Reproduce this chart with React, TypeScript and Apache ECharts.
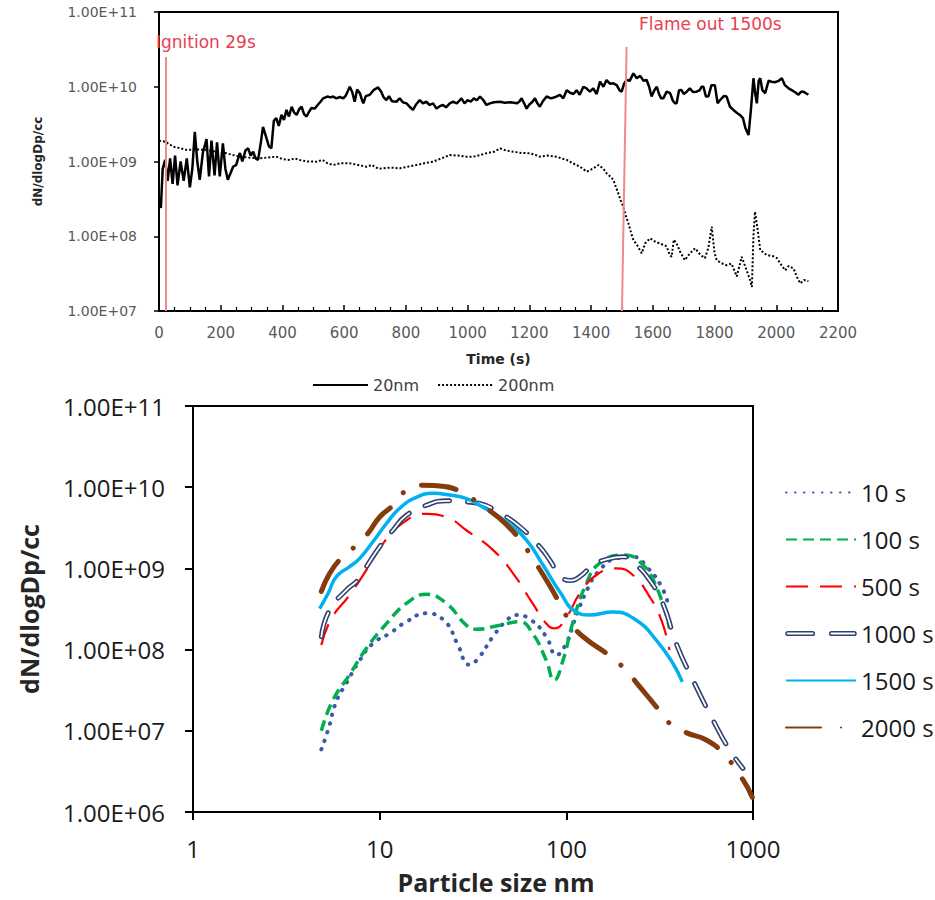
import React, { useEffect, useRef } from "react";
import * as echarts from "echarts";

// ---------- Top panel: time series (t [s], dN/dlogDp [#/cc]) ----------
const series20nm: [number, number][] = [
  [0, 3.0e8], [6, 2.4e8], [12, 8e8], [20, 1.05e9], [28, 5.5e8], [36, 1.1e9], [44, 5.0e8], [52, 1.2e9],
  [60, 4.8e8], [70, 1.0e9], [80, 5.5e8], [90, 1.1e9], [100, 4.5e8], [108, 8e8], [116, 2.5e9], [124, 1.0e9],
  [132, 5.7e8], [142, 1.3e9], [154, 2.0e9], [162, 6.3e8], [170, 1.9e9], [180, 6.5e8], [188, 1.8e9],
  [197, 6.3e8], [207, 1.75e9], [215, 8e8], [223, 5.7e8], [232, 7e8], [240, 8.5e8], [250, 9e8],
  [262, 1.3e9], [270, 1.0e9], [280, 1.4e9], [289, 1.5e9], [297, 1.2e9], [305, 1.35e9], [313, 1.1e9],
  [321, 1.05e9], [330, 1.8e9], [337, 2.9e9], [346, 2.2e9], [356, 1.6e9], [364, 1.5e9], [372, 3.5e9],
  [380, 3.8e9], [388, 3.0e9], [397, 4.2e9], [405, 3.6e9], [413, 4.9e9], [421, 4.0e9], [430, 5.4e9],
  [438, 4.5e9], [446, 4.2e9], [454, 5.0e9], [462, 5.4e9], [470, 4.3e9], [478, 4.0e9], [486, 4.6e9],
  [494, 5.2e9], [505, 5.1e9], [514, 5.7e9], [522, 6.2e9], [532, 7.0e9], [545, 7.4e9], [556, 7.2e9],
  [564, 7.4e9], [575, 7.0e9], [586, 7.3e9], [597, 7.0e9], [605, 7.6e9], [612, 8.8e9], [618, 1.0e10],
  [626, 8.5e9], [634, 6.3e9], [642, 9.2e9], [651, 8.2e9], [657, 6.8e9], [662, 6.0e9], [670, 7.5e9],
  [683, 7.8e9], [695, 9.0e9], [710, 9.8e9], [720, 8.6e9], [728, 7.2e9], [737, 6.65e9], [745, 7.5e9],
  [755, 6.4e9], [769, 6.3e9], [780, 7.0e9], [790, 6.2e9], [802, 6.0e9], [812, 5.4e9], [823, 4.9e9],
  [833, 5.8e9], [845, 6.65e9], [855, 6.0e9], [866, 6.3e9], [877, 5.7e9], [888, 6.0e9], [899, 5.1e9],
  [910, 5.5e9], [920, 5.7e9], [930, 5.3e9], [942, 6.0e9], [953, 6.3e9], [965, 6.0e9], [975, 6.6e9],
  [980, 7.0e9], [990, 6.0e9], [1000, 6.6e9], [1010, 6.3e9], [1020, 7.0e9], [1030, 6.6e9], [1040, 7.4e9],
  [1050, 6.7e9], [1061, 5.7e9], [1072, 6.0e9], [1085, 6.2e9], [1105, 6.3e9], [1120, 6.1e9], [1140, 6.2e9],
  [1159, 6.0e9], [1167, 6.3e9], [1175, 7.0e9], [1183, 6.0e9], [1191, 5.1e9], [1200, 5.8e9], [1210, 6.3e9],
  [1218, 7.0e9], [1226, 6.0e9], [1234, 5.4e9], [1245, 6.5e9], [1256, 7.4e9], [1270, 7.0e9], [1285, 7.3e9],
  [1299, 7.8e9], [1310, 7.0e9], [1321, 9.0e9], [1332, 8.3e9], [1343, 8.0e9], [1353, 9.0e9], [1363, 7.8e9],
  [1375, 1.0e10], [1385, 9.5e9], [1396, 8.6e9], [1407, 9.5e9], [1418, 8.0e9], [1429, 1.17e10],
  [1440, 1.0e10], [1450, 1.23e10], [1461, 1.1e10], [1472, 1.11e10], [1483, 1.05e10], [1492, 9.0e9],
  [1499, 8.6e9], [1507, 1.1e10], [1515, 1.23e10], [1525, 1.2e10], [1537, 1.51e10], [1548, 1.3e10],
  [1559, 1.4e10], [1570, 1.2e10], [1580, 1.23e10], [1588, 1.0e10], [1596, 7.4e9], [1605, 9.0e9],
  [1613, 1.0e10], [1620, 8.0e9], [1627, 7.0e9], [1634, 7.0e9], [1645, 8.6e9], [1656, 8.2e9], [1665, 6.5e9],
  [1672, 6.0e9], [1677, 6.0e9], [1685, 9.0e9], [1693, 9.05e9], [1700, 8.0e9], [1710, 8.6e9], [1720, 9.5e9],
  [1730, 8.5e9], [1742, 8.6e9], [1752, 9.0e9], [1758, 1.0e10], [1764, 1.0e10], [1772, 7.4e9], [1780, 7.4e9],
  [1790, 1.05e10], [1801, 1.05e10], [1810, 6.0e9], [1818, 6.65e9], [1830, 7.5e9], [1839, 7.4e9],
  [1850, 5.4e9], [1861, 4.9e9], [1872, 4.5e9], [1882, 4.2e9], [1892, 3.8e9], [1900, 2.8e9], [1910, 2.26e9],
  [1918, 5e9], [1926, 1.3e10], [1932, 8e9], [1937, 6.0e9], [1943, 1.2e10], [1948, 1.3e10], [1955, 9e9],
  [1964, 8.2e9], [1975, 1.2e10], [1985, 1.17e10], [1995, 1.15e10], [2008, 1.2e10], [2018, 1.3e10],
  [2028, 1.05e10], [2040, 9.5e9], [2050, 9.0e9], [2060, 8.5e9], [2072, 7.8e9], [2080, 8.6e9],
  [2088, 8.6e9], [2096, 8.2e9], [2104, 7.8e9],
];

const series200nm: [number, number][] = [
  [0, 1.9e9], [20, 1.84e9], [46, 1.58e9], [70, 1.5e9], [89, 1.43e9], [120, 1.45e9], [154, 1.43e9],
  [185, 1.35e9], [218, 1.29e9], [240, 1.22e9], [262, 1.16e9], [290, 1.13e9], [327, 1.1e9], [350, 1.13e9],
  [380, 1.16e9], [400, 1.08e9], [424, 1.05e9], [440, 1.1e9], [456, 1.05e9], [480, 1.0e9], [510, 9.95e8],
  [530, 1.05e9], [545, 9.5e8], [564, 8.98e8], [590, 9.5e8], [618, 9.45e8], [645, 9.0e8], [672, 8.5e8],
  [690, 9.0e8], [710, 8.0e8], [726, 8.1e8], [750, 8.3e8], [780, 8.1e8], [810, 8.6e8], [834, 8.98e8],
  [860, 9.5e8], [888, 9.95e8], [915, 1.1e9], [942, 1.22e9], [970, 1.2e9], [996, 1.16e9], [1018, 1.16e9],
  [1040, 1.22e9], [1061, 1.29e9], [1085, 1.35e9], [1105, 1.5e9], [1125, 1.4e9], [1148, 1.35e9],
  [1175, 1.3e9], [1202, 1.29e9], [1220, 1.22e9], [1234, 1.16e9], [1260, 1.2e9], [1288, 1.16e9],
  [1305, 1.1e9], [1321, 1.05e9], [1340, 9.5e8], [1353, 8.98e8], [1370, 8.2e8], [1386, 7.3e8], [1405, 8.0e8],
  [1424, 8.98e8], [1440, 8.0e8], [1450, 6.95e8], [1462, 6.3e8], [1472, 5.7e8], [1480, 4.6e8],
  [1488, 3.75e8], [1496, 3.0e8], [1504, 2.5e8], [1512, 1.9e8], [1521, 1.49e8], [1530, 1.1e8],
  [1537, 8.9e7], [1550, 7.5e7], [1564, 5.9e7], [1575, 8.0e7], [1591, 9.4e7], [1607, 8.5e7], [1623, 8.0e7],
  [1640, 7.5e7], [1645, 7.3e7], [1655, 5.6e7], [1661, 5.3e7], [1668, 9.0e7], [1677, 8.0e7], [1690, 6.0e7],
  [1704, 4.8e7], [1720, 5.9e7], [1737, 6.9e7], [1755, 5.6e7], [1769, 5.1e7], [1780, 7e7], [1791, 1.34e8],
  [1800, 6e7], [1807, 4.8e7], [1820, 4.4e7], [1839, 4.1e7], [1855, 4.3e7], [1872, 2.9e7], [1888, 5.3e7],
  [1904, 3.5e7], [1915, 2.6e7], [1921, 2.1e7], [1926, 1.0e8], [1931, 2.13e8], [1940, 1.2e8],
  [1948, 6.55e7], [1969, 5.6e7], [1990, 5.4e7], [2002, 5.1e7], [2015, 4.2e7], [2029, 3.5e7], [2040, 4.0e7],
  [2056, 3.7e7], [2068, 2.8e7], [2078, 2.34e7], [2090, 2.6e7], [2104, 2.5e7],
];

const ignitionTime = 22;
const flameOutTime = 1500;
const topLegend = ["20nm", "200nm"];

// ---------- Bottom panel: size distributions (Dp [nm], dN/dlogDp [#/cc]) ----------
const dist10s: [number, number][] = [
  [4.87, 5.9e6], [5.29, 1.02e7], [5.86, 2.3e7], [6.63, 3.85e7], [7.82, 7.4e7], [9.2, 1.19e8],
  [11.3, 1.58e8], [13.9, 2.2e8], [17.8, 2.8e8], [22.5, 2.2e8], [26, 1.2e8], [30.3, 6.5e7], [34, 8e7],
  [40.4, 1.44e8], [48, 2.3e8], [54, 2.67e8], [65, 2.3e8], [78, 1.44e8], [88.4, 8.6e7], [100, 1.2e8],
  [110.8, 2.3e8], [130.5, 5.7e8], [150.7, 9.5e8], [185, 1.33e9], [227, 1.39e9], [274, 1.0e9],
  [323, 6.0e8], [350, 3.7e8],
];
const dist100s: [number, number][] = [
  [4.87, 1.0e7], [5.62, 2.4e7], [6.9, 4.9e7], [8.5, 1.04e8], [10.9, 2.1e8], [13.9, 3.7e8], [17.8, 4.8e8],
  [22.8, 3.7e8], [29.1, 2.0e8], [33, 1.78e8], [44, 2.0e8], [56, 2.2e8], [66, 1.58e8], [78, 7.4e7],
  [86, 4.2e7], [96, 7.4e7], [108, 2.1e8], [128, 6.5e8], [151, 1.16e9], [201, 1.46e9], [247, 1.21e9],
  [303, 6.0e8], [357, 1.83e8],
];
const dist500s: [number, number][] = [
  [4.87, 1.14e8], [5.51, 2.4e8], [6.9, 4.7e8], [8.5, 9.6e8], [10.4, 2.0e9], [12.8, 3.4e9], [17.8, 4.7e9],
  [23.7, 4.1e9], [29, 2.97e9], [40.4, 1.69e9], [51.8, 8.7e8], [66, 3.7e8], [78, 2.1e8], [86.5, 1.83e8],
  [100, 2.5e8], [118, 4.9e8], [145, 8.3e8], [185, 1.0e9], [227, 8.3e8], [279, 4.5e8], [323, 2.3e8],
  [357, 9.9e7],
];
const dist1000s: [number, number][] = [
  [4.87, 1.44e8], [5.4, 3.1e8], [6.63, 5.4e8], [7.65, 7.2e8], [8.5, 1.05e9], [10, 1.85e9], [11.8, 2.97e9],
  [13.9, 4.5e9], [17.8, 6.0e9], [22.8, 6.8e9], [29, 6.6e9], [34.3, 6.3e9], [44, 4.8e9], [56, 3.3e9],
  [72, 1.85e9], [81.4, 1.27e9], [92, 8.3e8], [104, 7.1e8], [118, 7.9e8], [139, 1.1e9], [164, 1.29e9],
  [201, 1.39e9], [237, 1.1e9], [279, 7.2e8], [329, 3.7e8], [388, 1.19e8], [477, 4.2e7], [610, 1.36e7],
  [750, 5.8e6], [883, 3.45e6],
];
const dist1500s: [number, number][] = [
  [4.77, 3.2e8], [5.29, 4.9e8], [5.86, 7.9e8], [6.9, 1.05e9], [7.82, 1.33e9], [9.2, 2.13e9], [10.9, 3.6e9],
  [12.8, 5.5e9], [15.7, 7.5e9], [19.3, 8.4e9], [23.7, 8.0e9], [29, 7.3e9], [34.3, 6.0e9], [47.7, 3.76e9],
  [61, 2.24e9], [75, 1.1e9], [92, 5.2e8], [113, 2.9e8], [133, 2.67e8], [178, 2.9e8], [237, 2.3e8],
  [303, 1.31e8], [372, 6.8e7], [418, 4.0e7],
];
const dist2000s: [number, number][] = [
  [4.87, 5.2e8], [5.4, 8.7e8], [6.1, 1.27e9], [7.35, 1.85e9], [8.65, 2.7e9], [10, 4.3e9], [11.8, 6.0e9],
  [13.6, 8.8e9], [17.1, 1.06e10], [22.3, 1.02e10], [27.9, 8.4e9], [40.4, 4.8e9], [48.7, 3.3e9],
  [57.4, 2.13e9], [66, 1.33e9], [83, 5.7e8], [94, 3.4e8], [106, 2.1e8], [123, 1.44e8], [178, 7.8e7],
  [214, 5.2e7], [247, 3.5e7], [303, 1.98e7], [357, 1.24e7], [439, 9.5e6], [562, 7.7e6], [690, 5.3e6],
  [883, 2.5e6], [991, 1.52e6],
];
const bottomLegend = ["10 s", "100 s", "500 s", "1000 s", "1500 s", "2000 s"];

const sci = (v: number) => {
  const e = Math.round(Math.log10(v));
  const m = v / Math.pow(10, e);
  return `${m.toFixed(2)}E${e < 0 ? "-" : "+"}${String(Math.abs(e)).padStart(2, "0")}`;
};
const plain = (v: number) => String(Math.round(v));

const TOP_FONT = "DejaVu Sans";
const BOT_FONT = "Open Sans";
const HOLLOW_DASH_ICON =
  "path://M3,0 L27,0 A1.8,1.8 0 0 1 27,3.6 L3,3.6 A1.8,1.8 0 0 1 3,0 Z M45.5,0 L67.5,0 A1.8,1.8 0 0 1 67.5,3.6 L45.5,3.6 A1.8,1.8 0 0 1 45.5,0 Z";

export default function App() {
  const ref = useRef<HTMLDivElement>(null);
  useEffect(() => {
    if (!ref.current) return;
    const chart = echarts.init(ref.current, undefined, { renderer: "svg" });
    const botLine = (name: string, data: [number, number][], color: string, lineStyle: any, z = 2) => ({
      name,
      type: "line",
      xAxisIndex: 1,
      yAxisIndex: 1,
      data,
      smooth: 0.5,
      symbol: "none",
      showSymbol: false,
      z,
      itemStyle: { color },
      lineStyle: { color, ...lineStyle },
    });
    const option: any = {
      animation: false,
      backgroundColor: "#ffffff",
      grid: [
        { left: 159, top: 12, width: 679, height: 299, show: true, borderColor: "#000", borderWidth: 2 },
        { left: 193, top: 406, width: 560, height: 406, show: true, borderColor: "#000", borderWidth: 2 },
      ],
      xAxis: [
        {
          gridIndex: 0,
          type: "value",
          min: 0,
          max: 2200,
          interval: 200,
          name: "Time (s)",
          nameLocation: "middle",
          nameGap: 41,
          nameTextStyle: { fontFamily: TOP_FONT, fontWeight: "bold", fontSize: 14, color: "#262626" },
          axisLine: { onZero: false, lineStyle: { color: "#000", width: 2 } },
          axisTick: { inside: true, length: 6, lineStyle: { color: "#000", width: 1.5 } },
          minorTick: { show: true, splitNumber: 4, length: 4, lineStyle: { color: "#000", width: 1.2 } },
          splitLine: { show: false },
          axisLabel: { fontFamily: TOP_FONT, fontSize: 15, color: "#595959", margin: 14, formatter: plain },
        },
        {
          gridIndex: 1,
          type: "log",
          logBase: 10,
          min: 1,
          max: 1000,
          name: "Particle size nm",
          nameLocation: "middle",
          nameGap: 57,
          nameTextStyle: { fontFamily: BOT_FONT, fontWeight: "bold", fontSize: 25, color: "#262626", padding: [0, 0, 0, 46] },
          axisLine: { onZero: false, lineStyle: { color: "#000", width: 2 } },
          axisTick: { inside: false, length: 8, lineStyle: { color: "#000", width: 2 } },
          splitLine: { show: false },
          minorSplitLine: { show: false },
          axisLabel: { fontFamily: BOT_FONT, fontSize: 24, color: "#1a1a1a", margin: 24, formatter: plain },
        },
      ],
      yAxis: [
        {
          gridIndex: 0,
          type: "log",
          logBase: 10,
          min: 1e7,
          max: 1e11,
          name: "dN/dlogDp/cc",
          nameLocation: "middle",
          nameGap: 115,
          nameTextStyle: { fontFamily: TOP_FONT, fontWeight: "bold", fontSize: 12, color: "#262626" },
          axisLine: { onZero: false, lineStyle: { color: "#000", width: 2 } },
          axisTick: { inside: false, length: 5, lineStyle: { color: "#000", width: 1.5 } },
          splitLine: { show: false },
          axisLabel: { fontFamily: TOP_FONT, fontSize: 14, color: "#595959", margin: 22, formatter: sci },
        },
        {
          gridIndex: 1,
          type: "log",
          logBase: 10,
          min: 1e6,
          max: 1e11,
          name: "dN/dlogDp/cc",
          nameLocation: "middle",
          nameGap: 152,
          nameTextStyle: { fontFamily: BOT_FONT, fontWeight: "bold", fontSize: 25, color: "#262626" },
          axisLine: { onZero: false, lineStyle: { color: "#000", width: 2 } },
          axisTick: { inside: false, length: 8, lineStyle: { color: "#000", width: 2 } },
          splitLine: { show: false },
          axisLabel: { fontFamily: BOT_FONT, fontSize: 24, color: "#1a1a1a", margin: 28, formatter: sci },
        },
      ],
      legend: [
        {
          data: topLegend,
          left: 307,
          top: 372,
          itemWidth: 55,
          itemHeight: 10,
          itemGap: 18,
          itemStyle: { opacity: 0 },
          textStyle: { fontFamily: TOP_FONT, fontSize: 16, color: "#404040" },
        },
        {
          data: bottomLegend.map((name) =>
            name === "1000 s"
              ? {
                  name,
                  icon: HOLLOW_DASH_ICON,
                  itemStyle: { opacity: 1, color: "#ffffff", borderColor: "#2f4270", borderWidth: 1.5 },
                }
              : { name }
          ),
          orient: "vertical",
          left: 780,
          top: 475,
          itemWidth: 70,
          itemHeight: 14,
          itemGap: 22,
          symbolKeepAspect: true,
          itemStyle: { opacity: 0 },
          textStyle: { fontFamily: BOT_FONT, fontSize: 24, color: "#1a1a1a", lineHeight: 25 },
        },
      ],
      graphic: [
        {
          type: "text",
          left: 156,
          top: 33,
          z: 10,
          style: { text: "Ignition 29s", fill: "#e8404f", font: `17px "${TOP_FONT}"` },
        },
        {
          type: "text",
          left: 639,
          top: 15,
          z: 10,
          style: { text: "Flame out 1500s", fill: "#e8404f", font: `17px "${TOP_FONT}"` },
        },
      ],
      series: [
        {
          name: "20nm",
          type: "line",
          xAxisIndex: 0,
          yAxisIndex: 0,
          data: series20nm,
          symbol: "none",
          showSymbol: false,
          itemStyle: { color: "#000" },
          lineStyle: { color: "#000", width: 2.5 },
          markLine: {
            silent: true,
            symbol: "none",
            label: { show: false },
            lineStyle: { color: "#f08a8a", width: 2, type: "solid" },
            data: [
              [{ coord: [ignitionTime, 2.5e10] }, { coord: [ignitionTime, 1e7] }],
              [{ coord: [flameOutTime + 15, 3.4e10] }, { coord: [flameOutTime, 1e7] }],
            ],
          },
        },
        {
          name: "200nm",
          type: "line",
          xAxisIndex: 0,
          yAxisIndex: 0,
          data: series200nm,
          symbol: "none",
          showSymbol: false,
          itemStyle: { color: "#000" },
          lineStyle: { color: "#000", width: 2, type: [2, 2] },
        },
        botLine("10 s", dist10s, "#3a5ba8", { width: 4, type: [0.5, 8.5], cap: "round" }),
        botLine("100 s", dist100s, "#00b050", { width: 3.5, type: [11, 6] }),
        botLine("500 s", dist500s, "#ff0000", { width: 2.2, type: [22, 12] }),
        botLine("1000 s", dist1000s, "#2f4270", { width: 5, type: [25, 18], cap: "round" }),
        botLine("1000 s inner", dist1000s, "#ffffff", { width: 1.8, type: [25, 18], cap: "round" }, 3),
        botLine("1500 s", dist1500s, "#00b0f0", { width: 3.5, type: "solid" }, 4),
        botLine("2000 s", dist2000s, "#843c0c", { width: 5, type: [35, 20, 0.1, 20], cap: "round" }, 5),
      ],
    };
    chart.setOption(option);
    return () => chart.dispose();
  }, []);
  return (
    <div
      ref={ref}
      style={{ position: "absolute", left: 0, top: 0, width: 935, height: 900, background: "#fff" }}
    />
  );
}
